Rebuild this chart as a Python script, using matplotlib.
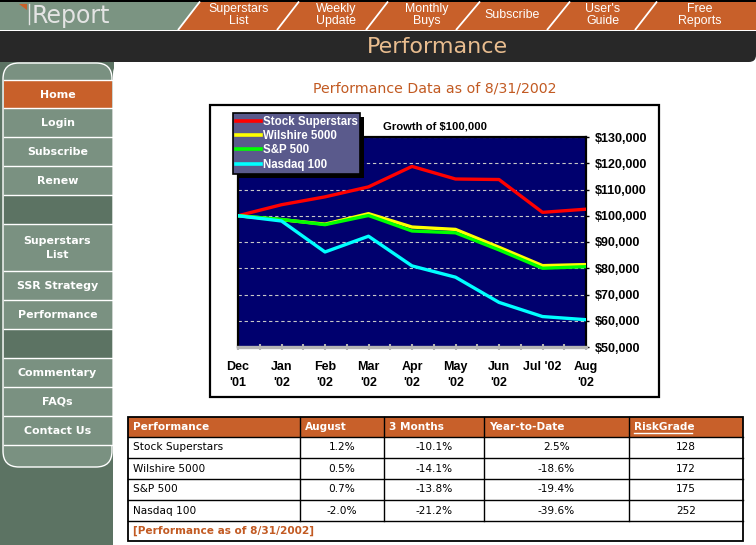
import matplotlib
matplotlib.use('Agg')
import matplotlib.pyplot as plt
from matplotlib.patches import Rectangle, Polygon, FancyBboxPatch
from matplotlib.transforms import IdentityTransform
import numpy as np

# ---------------- data ----------------
months = ["Dec\n'01", "Jan\n'02", "Feb\n'02", "Mar\n'02", "Apr\n'02",
          "May\n'02", "Jun\n'02", "Jul '02", "Aug\n'02"]
superstars = [100000, 104200, 107200, 111000, 118800, 114000, 113800, 101300, 102500]
wilshire = [100000, 98500, 96800, 100800, 95700, 94800, 88000, 81000, 81400]
sp500 = [100000, 98600, 96600, 100100, 94200, 93500, 87000, 80000, 80600]
nasdaq = [100000, 98000, 86200, 92200, 80900, 76600, 67000, 61600, 60400]
series_names = ["Stock Superstars", "Wilshire 5000", "S&P 500", "Nasdaq 100"]
series_colors = ['#ff0000', '#ffff00', '#00ff00', '#00ffff']
ytick_values = [50000, 60000, 70000, 80000, 90000, 100000, 110000, 120000, 130000]
ytick_labels = ["$50,000", "$60,000", "$70,000", "$80,000", "$90,000",
                "$100,000", "$110,000", "$120,000", "$130,000"]

nav_items = ["Superstars\nList", "Weekly\nUpdate", "Monthly\nBuys", "Subscribe",
             "User's\nGuide", "Free\nReports"]
menu_items = ["Home", "Login", "Subscribe", "Renew", "", "Superstars\nList",
              "SSR Strategy", "Performance", "", "Commentary", "FAQs", "Contact Us"]

table_header = ["Performance", "August", "3 Months", "Year-to-Date", "RiskGrade"]
aug = ["1.2%", "0.5%", "0.7%", "-2.0%"]
three_months = ["-10.1%", "-14.1%", "-13.8%", "-21.2%"]
ytd = ["2.5%", "-18.6%", "-19.4%", "-39.6%"]
riskgrade = ["128", "172", "175", "252"]

# ---------------- styles ----------------
W, H = 756, 545
ORANGE = '#c8602a'
TXT_ORANGE = '#c25a22'
LGREEN = '#7a9181'
DGREEN = '#5c7363'
DARK = '#282828'
NAVY = '#00006e'

fig = plt.figure(figsize=(W / 100, H / 100), dpi=100)
fig.patch.set_facecolor('white')
bg = fig.add_axes([0, 0, 1, 1], zorder=0)
bg.set_xlim(0, W)
bg.set_ylim(H, 0)
bg.axis('off')

# dark banner
bg.add_patch(FancyBboxPatch((-30, 20), W + 30, 42, boxstyle="round,pad=0,rounding_size=7",
                            fc=DARK, ec='none'))
bg.text(437, 47, "Performance", color='#e9bd8f', fontsize=16, fontfamily='DejaVu Sans',
        ha='center', va='center')

# top nav
bg.add_patch(Rectangle((0, 0), W, 31, fc='white', ec='none'))
bg.add_patch(Polygon([(0, 1.5), (200, 1.5), (178, 30), (0, 30)], closed=True, fc='#7b9482', ec='none'))
bg.add_patch(Polygon([(200, 1.5), (W, 1.5), (W, 30), (178, 30)], closed=True, fc=ORANGE, ec='none'))
bg.add_patch(Rectangle((0, 0), W, 1.6, fc='black', ec='none'))
seps = [(178, 200), (277, 299), (366, 388), (456, 480), (547, 570), (635, 657)]
for b, t in seps:
    bg.plot([b, t], [30, 1.5], color='white', lw=1.3, solid_capstyle='butt')
nav_x = [239, 336, 427, 512, 603, 700]
for label, xc in zip(nav_items, nav_x):
    bg.text(xc, 15, label, color='white', fontsize=8.9, fontfamily='Liberation Sans',
            ha='center', va='center', linespacing=1.0)
# logo
bg.text(32, 15.5, "Report", color='#e4e4e4', fontsize=17, fontfamily='DejaVu Sans',
        ha='left', va='center')
bg.add_patch(Polygon([(19, 4), (27, 4), (27, 10)], closed=True, fc=ORANGE, ec='none'))
bg.plot([28.5, 28.5], [4, 24], color='#e4e4e4', lw=1)

# sidebar background and content area
bg.add_patch(Rectangle((0, 62), 114, H - 62, fc=DGREEN, ec='none'))
bg.add_patch(FancyBboxPatch((113, 62), 800, 700, boxstyle="round,pad=0,rounding_size=12",
                            fc='white', ec='none'))

# menu panel
bg.add_patch(FancyBboxPatch((3, 63), 109, 404, boxstyle="round,pad=0,rounding_size=16",
                            fc=LGREEN, ec='white', lw=1))
row_edges = [80, 108, 137, 166, 195, 224, 271, 300, 329, 358, 387, 416, 445]
for i, label in enumerate(menu_items):
    y0, y1 = row_edges[i], row_edges[i + 1]
    if label == "Home":
        fc = ORANGE
    elif label == "":
        fc = DGREEN
    else:
        fc = LGREEN
    bg.add_patch(Rectangle((3.5, y0), 108.5, y1 - y0, fc=fc, ec='none'))
    if label:
        bg.text(57.5, (y0 + y1) / 2 + 0.5, label, color='white', fontsize=7.9,
                fontweight='bold', fontfamily='DejaVu Sans', ha='center', va='center',
                linespacing=1.45)
for y in row_edges:
    bg.plot([3.5, 112], [y, y], color='white', lw=1)

# page title
bg.text(435, 88.5, "Performance Data as of 8/31/2002", color=TXT_ORANGE, fontsize=10.2,
        fontfamily='DejaVu Sans', ha='center', va='center')

# chart frame
bg.add_patch(Rectangle((210, 105), 449, 292, fc='white', ec='black', lw=1.6))
bg.text(435, 126.5, "Growth of $100,000", color='black', fontsize=8.1, fontweight='bold',
        fontfamily='Liberation Sans', ha='center', va='center')

# ---------------- table ----------------
col_x = [128, 300, 384, 484, 629, 743]
row_y = [417, 437, 458, 479, 500, 521, 541]
bg.add_patch(Rectangle((col_x[0], row_y[0]), col_x[-1] - col_x[0], row_y[1] - row_y[0],
                       fc=ORANGE, ec='none'))
for xv in col_x[1:-1]:
    bg.plot([xv, xv], [row_y[0], row_y[5]], color='black', lw=1)
for yv in row_y[1:-1]:
    bg.plot([col_x[0], col_x[-1]], [yv, yv], color='black', lw=1)
bg.add_patch(Rectangle((col_x[0], row_y[0]), col_x[-1] - col_x[0], row_y[-1] - row_y[0],
                       fc='none', ec='black', lw=1.3))
tfont = dict(fontfamily='DejaVu Sans', fontsize=7.6)
for j, h in enumerate(table_header):
    bg.text(col_x[j] + 5, (row_y[0] + row_y[1]) / 2, h, color='white', fontweight='bold',
            ha='left', va='center', **tfont)
bg.plot([634, 692], [433, 433], color='white', lw=1)
columns = [aug, three_months, ytd, riskgrade]
for i, name in enumerate(series_names):
    yc = (row_y[i + 1] + row_y[i + 2]) / 2
    bg.text(col_x[0] + 5, yc, name, color='black', ha='left', va='center', **tfont)
    for j, col in enumerate(columns):
        xc = (col_x[j + 1] + col_x[j + 2]) / 2
        bg.text(xc, yc, col[i], color='black', ha='center', va='center', **tfont)
bg.text(col_x[0] + 5, (row_y[5] + row_y[6]) / 2, "[Performance as of 8/31/2002]",
        color=TXT_ORANGE, fontweight='bold', ha='left', va='center', **tfont)

# ---------------- chart ----------------
ax = fig.add_axes([238 / W, 1 - 347 / H, 348 / W, 210 / H], zorder=2)
ax.set_facecolor(NAVY)
xs = np.arange(len(months))
for vals, name, colr in zip([superstars, wilshire, sp500, nasdaq], series_names, series_colors):
    ax.plot(xs, vals, color=colr, lw=2.4, label=name, zorder=3)
ax.set_xlim(0, len(months) - 1)
ax.set_ylim(ytick_values[0], ytick_values[-1])
ax.yaxis.tick_right()
ax.set_yticks(ytick_values)
ax.set_yticklabels(ytick_labels, fontfamily='Liberation Sans', fontweight='bold', fontsize=9)
ax.yaxis.grid(True, color='#c8c8c8', ls=(0, (3, 2.5)), lw=0.8)
ax.set_axisbelow(True)
ax.tick_params(axis='y', length=2.5, width=1, color='black', pad=3.5)
ax.set_xticks(xs)
ax.set_xticks(np.arange(0.5, len(months) - 1, 1.0), minor=True)
ax.set_xticklabels(months, fontfamily='Liberation Sans', fontweight='bold', fontsize=9,
                   linespacing=1.45)
ax.tick_params(axis='x', which='both', direction='inout', length=5, width=1.5,
               color='#b4b4b4', pad=7.5)
for s in ['top', 'left', 'right']:
    ax.spines[s].set_color('black')
    ax.spines[s].set_linewidth(1.6)
ax.spines['bottom'].set_color('#b4b4b4')
ax.spines['bottom'].set_linewidth(2.4)

leg = ax.legend(loc='upper left', bbox_to_anchor=(233 / W, 1 - 113 / H),
                bbox_transform=fig.transFigure, borderaxespad=0, frameon=True,
                fancybox=False, prop={'family': 'Liberation Sans', 'weight': 'bold', 'size': 8.3},
                handlelength=2.2, handletextpad=0.12, labelspacing=0.2, borderpad=0.25)
leg.get_frame().set_facecolor('#5a5a8c')
leg.get_frame().set_edgecolor('black')
leg.get_frame().set_linewidth(1.2)
leg.get_frame().set_alpha(1)
for t in leg.get_texts():
    t.set_color('white')
for ln in leg.get_lines():
    ln.set_linewidth(2.6)
leg.set_zorder(6)

fig.canvas.draw()
bb = leg.get_window_extent()
ax.add_patch(Rectangle((bb.x0 + 4, bb.y0 - 4), bb.width, bb.height, transform=IdentityTransform(),
                       fc='black', ec='none', zorder=5.5, clip_on=False))

fig.savefig('out.png', dpi=100, facecolor='white')
